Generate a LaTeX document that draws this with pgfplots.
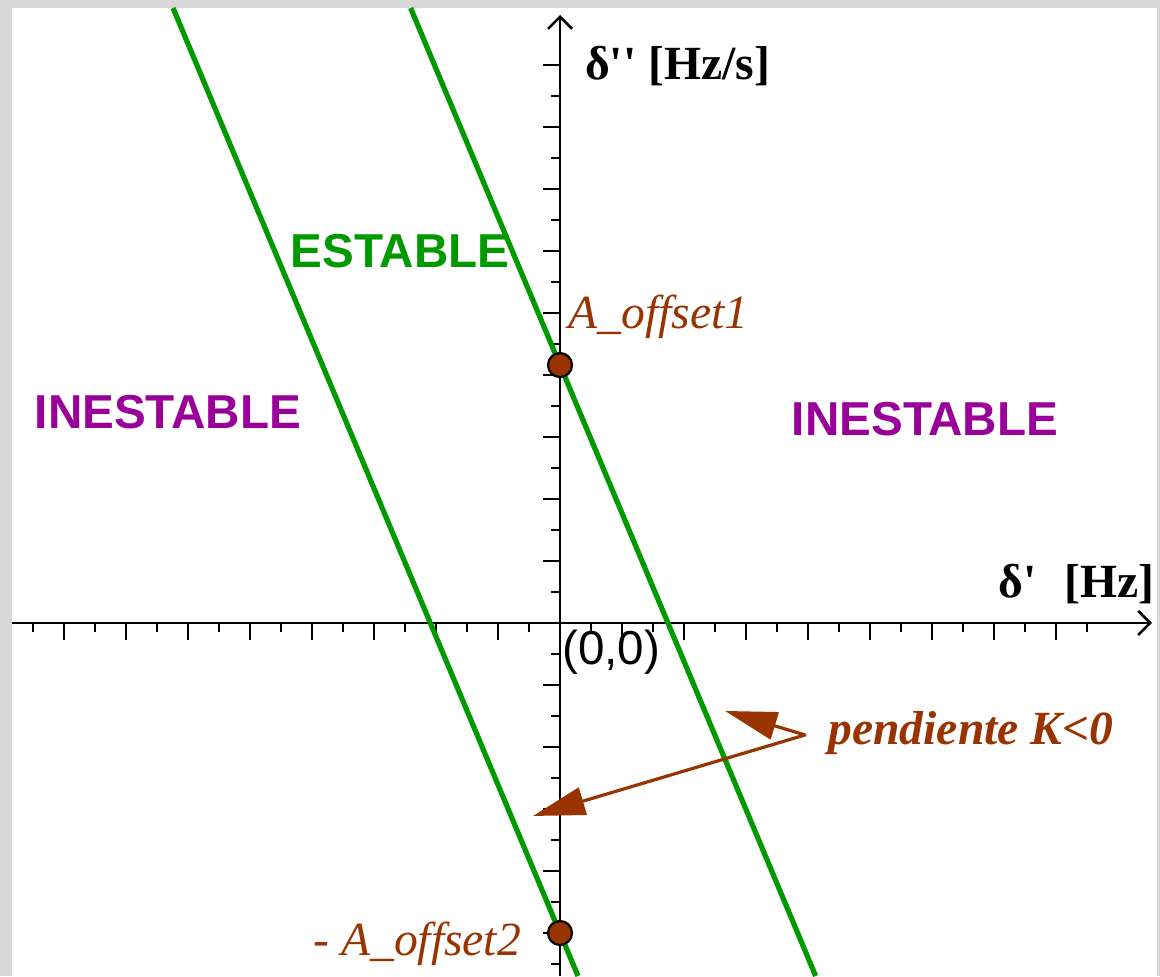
\documentclass[border=0pt]{standalone}
\usepackage{pgfplots}
\pgfplotsset{compat=1.18}
\usepackage{fontspec}
\setmainfont{Liberation Serif}[Ligatures=TeXOff]
\newfontfamily\arialfont{Liberation Sans}[Ligatures=TeXOff]
\usetikzlibrary{arrows.meta}

\definecolor{lineGreen}{RGB}{0,153,0}
\definecolor{zonePurple}{RGB}{153,0,153}
\definecolor{noteBrown}{RGB}{153,51,0}
\definecolor{frameGrey}{RGB}{216,216,216}

\newcommand\txt{\fontsize{23.8}{28}\selectfont}

\begin{document}
\begin{tikzpicture}
% frame and drawing area
\fill[frameGrey] (0,0) rectangle (580pt,488pt);
\fill[white] (6pt,0) rectangle (578.5pt,484pt);
\useasboundingbox (0,0) rectangle (580pt,488pt);
\begin{axis}[
  at={(6pt,0pt)}, anchor=south west,
  x=31pt, y=31pt,
  xmin=-8.839, xmax=9.548, ymin=-5.694, ymax=9.806,
  enlargelimits=false, clip=false,
  axis lines=middle,
  axis line style={black, line width=1.3pt,
    -{Straight Barb[length=6pt,width=12pt,line width=1.3pt]}},
  every inner x axis line/.append style={-{Straight Barb[length=6pt,width=12pt,line width=1.3pt]}},
  every inner y axis line/.append style={-{Straight Barb[length=6pt,width=12pt,line width=1.3pt]}},
  xtick={-8,...,8}, ytick={-5,...,9},
  minor xtick={-8.5,-7.5,...,8.5}, minor ytick={-5.5,-4.5,...,8.5},
  xticklabels={}, yticklabels={},
  tick align=outside,
  major tick length=8.5pt, minor tick length=4.5pt,
  tick style={black, line width=1.4pt},
]
% stability boundaries, slope K = -2.39
\addplot[lineGreen, line width=2.6pt] coordinates {(-2.410,9.919) (4.123,-5.694)};
\addplot[lineGreen, line width=2.6pt] coordinates {(-6.242,9.919) (0.290,-5.694)};

% offsets on the vertical axis
\addplot[only marks, mark=*, mark size=6pt,
  mark options={fill=noteBrown, draw=black, line width=1.1pt}]
  coordinates {(0,4.16) (0,-5)};

% axis labels
\node[anchor=base west, inner sep=0, font=\txt\bfseries] at (0.40,8.76) {δ'' [Hz/s]};
\node[anchor=base east, inner sep=0, font=\txt\bfseries] at (9.597,0.403) {δ'\hspace{0.6em}[Hz]};
\node[anchor=base west, inner sep=0, font=\txt\arialfont] at (0.03,-0.677) {(0,0)};

% regions
\node[anchor=base, inner sep=0, font=\txt\arialfont\bfseries, text=zonePurple] at (-6.323,3.129) {INESTABLE};
\node[anchor=base, inner sep=0, font=\txt\arialfont\bfseries, text=zonePurple] at (5.887,3.016) {INESTABLE};
\node[anchor=base, inner sep=0, font=\txt\arialfont\bfseries, text=lineGreen] at (-2.581,5.726) {ESTABLE};

% annotations
\node[anchor=base west, inner sep=0, font=\txt\itshape, text=noteBrown] at (0.129,4.742) {A\_offset1};
\node[anchor=base west, inner sep=0, font=\txt\itshape, text=noteBrown] at (-3.984,-5.371) {- A\_offset2};
\node[anchor=base west, inner sep=0, font=\txt\bfseries\itshape, text=noteBrown] at (4.323,-1.968) {pendiente K<0};
\draw[noteBrown, line width=1.6pt, line join=round,
  {Triangle[length=26pt,width=14pt]}-{Triangle[length=26pt,width=14pt]}]
  (2.661,-1.419) -- (3.952,-1.806) -- (-0.435,-3.113);
\end{axis}
\end{tikzpicture}
\end{document}
